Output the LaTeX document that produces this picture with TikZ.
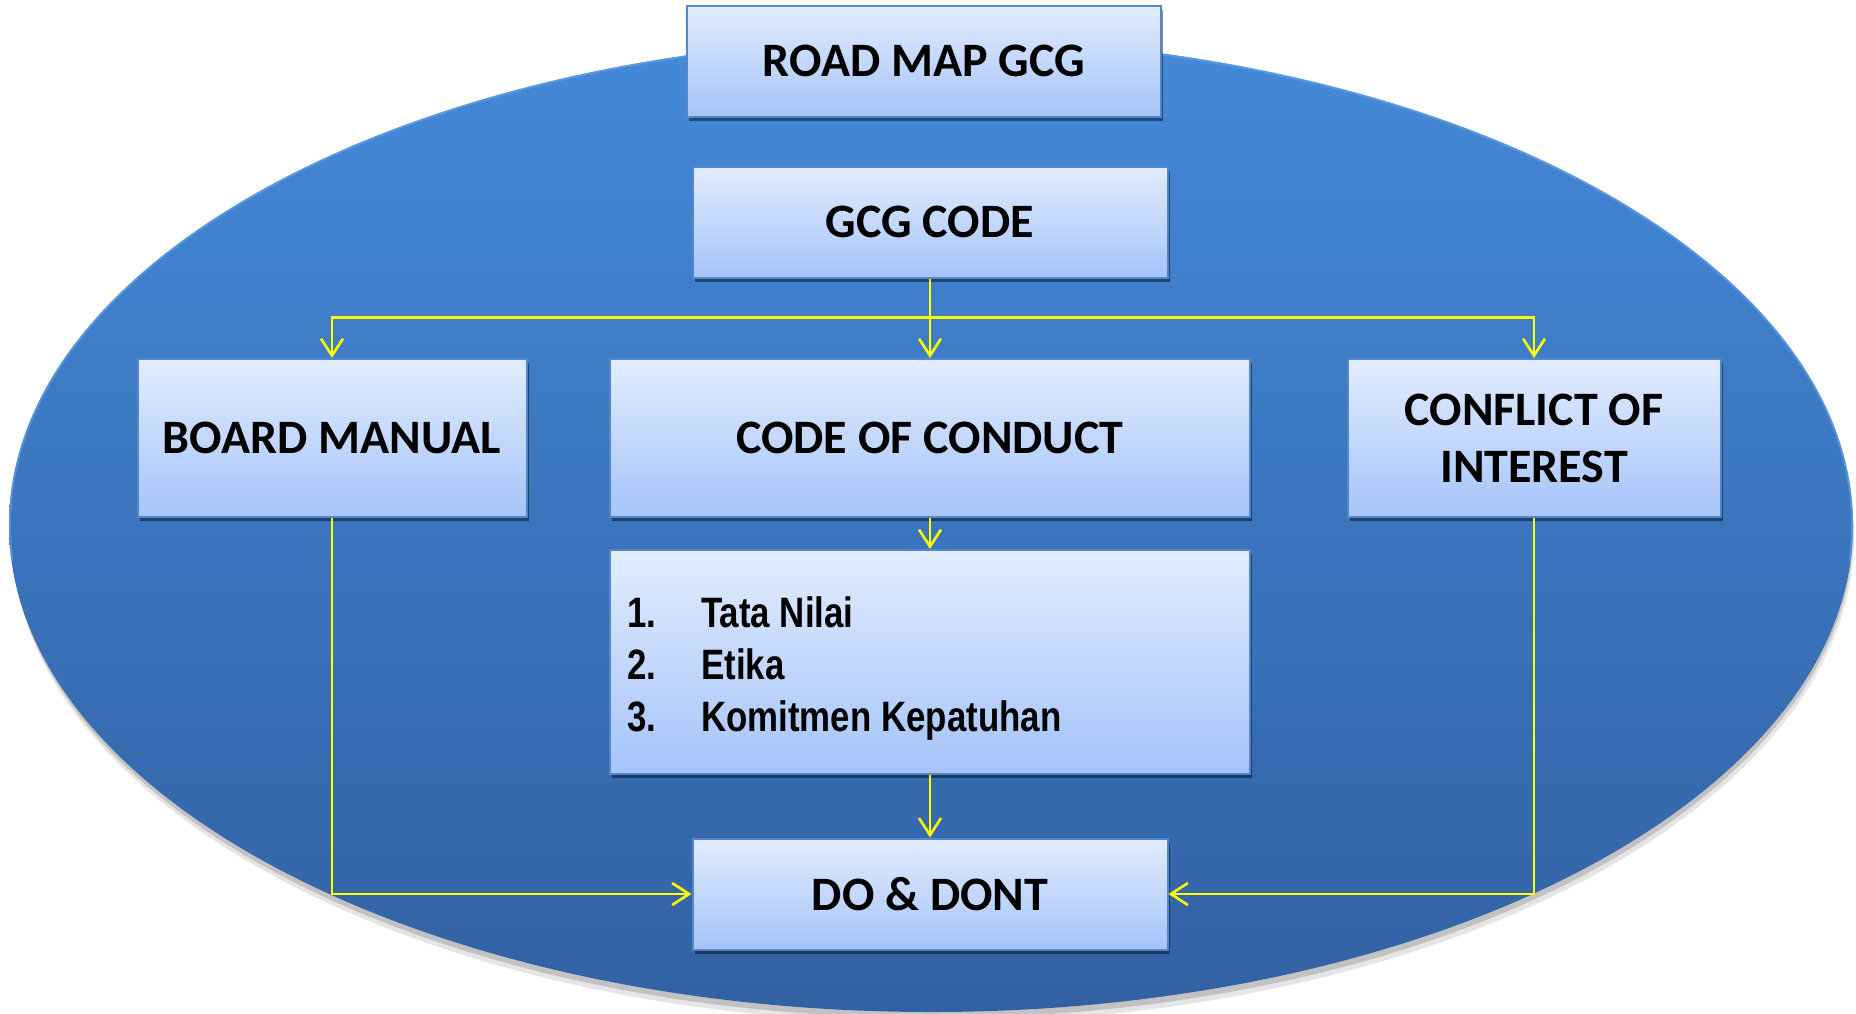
\documentclass[tikz,border=0pt]{standalone}
\usepackage{fontspec}
\usetikzlibrary{arrows.meta,shadows}
\newfontfamily\boxfont{Carlito}
\newfontfamily\narrowfont[FakeStretch=0.82]{Liberation Sans}
\definecolor{ellTop}{RGB}{68,137,216}
\definecolor{ellBot}{RGB}{50,97,163}
\definecolor{ellRim}{RGB}{110,170,240}
\definecolor{boxTop}{RGB}{226,236,253}
\definecolor{boxBot}{RGB}{165,196,250}
\definecolor{boxLine}{RGB}{84,134,204}
\definecolor{connYellow}{RGB}{255,255,0}
\begin{document}
\begin{tikzpicture}[x=1pt,y=-1pt,
  box/.style={rectangle, draw=boxLine, line width=2pt, top color=boxTop, bottom color=boxBot,
    drop shadow={shadow xshift=2pt, shadow yshift=-4pt, opacity=0.45, fill=black},
    font={\boxfont\bfseries\fontsize{48}{57}\selectfont}, align=center, inner sep=0pt},
  listfont/.style={font={\narrowfont\bfseries\fontsize{42.5}{52}\selectfont}, align=left, inner sep=0pt},
  conn/.style={draw=connYellow, line width=2.6pt, -{Straight Barb[length=17pt,width=22pt]}}
]
\fill[white] (0,0) rectangle (1856,1013);
\useasboundingbox (0,0) rectangle (1856,1013);
% ellipse with soft shadow
\fill[black, opacity=0.10] (933,536) ellipse [x radius=921pt, y radius=487pt];
\fill[black, opacity=0.15] (932,531) ellipse [x radius=921pt, y radius=487pt];
\shade[top color=ellTop, bottom color=ellBot] (931,525) ellipse [x radius=922pt, y radius=487pt];
\begin{scope}
  \clip (0,0) rectangle (1856,560);
  \draw[ellRim, line width=2pt, opacity=0.5] (931,525) ellipse [x radius=921pt, y radius=486pt];
\end{scope}

% boxes
\node[box, minimum width=474pt, minimum height=111pt] (road) at (924,61) {ROAD MAP GCG};
\node[box, minimum width=475pt, minimum height=111pt] (gcg) at (930,222) {GCG CODE};
\node[box, minimum width=389pt, minimum height=158pt] (bm) at (332,438) {BOARD MANUAL};
\node[box, minimum width=640pt, minimum height=158pt] (coc) at (930,438) {CODE OF CONDUCT};
\node[box, minimum width=373pt, minimum height=158pt] (coi) at (1534,438) {CONFLICT OF\\INTEREST};
\node[box, minimum width=640pt, minimum height=224pt] (list) at (930,662) {};
\node[listfont, anchor=north west] (listtext) at (627,596)
  {\makebox[74pt][l]{1.}Tata Nilai\\\makebox[74pt][l]{2.}Etika\\\makebox[74pt][l]{3.}Komitmen Kepatuhan};
\node[box, minimum width=475pt, minimum height=111pt] (dd) at (930,894) {DO \& DONT};

% connectors
\draw[conn] (gcg.south) -- (coc.north);
\draw[conn] (gcg.south) -- ++(0,39) -| (bm.north);
\draw[conn] (gcg.south) -- ++(0,39) -| (coi.north);
\draw[conn] (coc.south) -- (list.north);
\draw[conn] (list.south) -- (dd.north);
\draw[conn] (bm.south) |- (dd.west);
\draw[conn] (coi.south) |- (dd.east);
\end{tikzpicture}
\end{document}
